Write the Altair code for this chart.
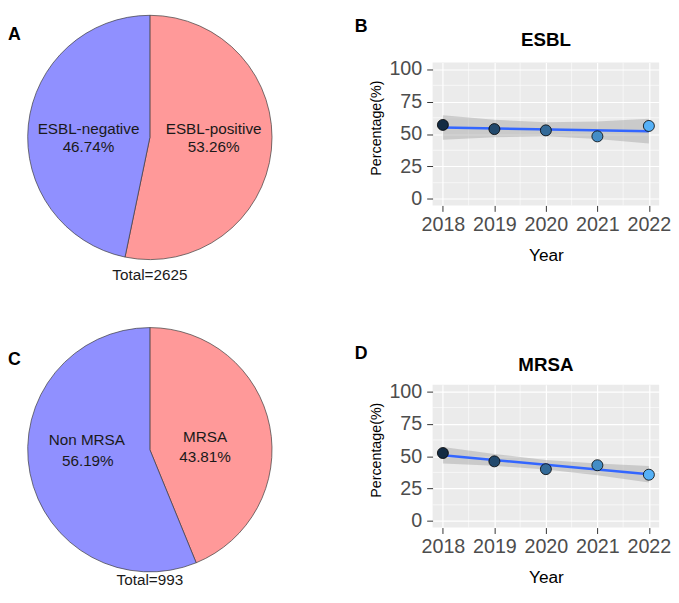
import altair as alt
import pandas as pd

# ---------------- data ----------------
esbl_cats = ["ESBL-positive", "ESBL-negative"]
esbl_pct = [53.26, 46.74]
esbl_total = 2625
mrsa_cats = ["MRSA", "Non MRSA"]
mrsa_pct = [43.81, 56.19]
mrsa_total = 993

years = [2018, 2019, 2020, 2021, 2022]
esbl_rate = [57.0, 53.8, 52.8, 48.2, 56.2]
esbl_lo = [45.5, 47.6, 48.2, 46.2, 42.7]
esbl_hi = [64.5, 61.0, 59.0, 59.6, 61.7]
mrsa_rate = [52.4, 46.0, 40.0, 43.0, 35.7]
mrsa_lo = [44.4, 42.6, 39.7, 35.3, 29.8]
mrsa_hi = [57.0, 51.6, 47.1, 44.3, 42.4]

x_ticks = [2018, 2019, 2020, 2021, 2022]
y_ticks = [0, 25, 50, 75, 100]
x_minor = [2018.5, 2019.5, 2020.5, 2021.5]
y_minor = [12.5, 37.5, 62.5, 87.5]
panel_letters = ["A", "B", "C", "D"]
trend_titles = ["ESBL", "MRSA"]

FONT = "Liberation Sans"
POS = "#FF9999"
NEG = "#9090FF"
all_cats = esbl_cats + mrsa_cats


def label(txt, x, y, size=15.5, weight="normal", align="center", color="#1A1A1A"):
    return alt.Chart(pd.DataFrame({"t": [txt]})).mark_text(
        font=FONT, fontSize=size, fontWeight=weight, align=align,
        baseline="alphabetic", color=color
    ).encode(x=alt.value(x), y=alt.value(y), text="t:N")


def pie(cats, pcts, cx, cy):
    df = pd.DataFrame({"cat": cats, "pct": pcts, "idx": list(range(len(cats)))})
    return alt.Chart(df).mark_arc(radius=124, stroke="#3A3A3A", strokeWidth=0.7).encode(
        theta=alt.Theta("pct:Q", stack=True),
        color=alt.Color("cat:N", scale=alt.Scale(domain=all_cats, range=[POS, NEG, POS, NEG]),
                        legend=None),
        order=alt.Order("idx:Q"),
        x=alt.value(cx), y=alt.value(cy),
    )


pct_txt = lambda p: f"{p:.2f}%"

LEFT_W = 431

left = alt.layer(
    pie(esbl_cats, esbl_pct, 144, 124),
    pie(mrsa_cats, mrsa_pct, 144, 441),
    label(esbl_cats[1], 81.7, 120), label(pct_txt(esbl_pct[1]), 81.7, 139),
    label(esbl_cats[0], 208.7, 120), label(pct_txt(esbl_pct[0]), 208.7, 139),
    label(f"Total={esbl_total}", 144, 269),
    label(mrsa_cats[1], 80, 436), label(pct_txt(mrsa_pct[1]), 81, 458),
    label(mrsa_cats[0], 200, 433), label(pct_txt(mrsa_pct[0]), 200, 453),
    label(f"Total={mrsa_total}", 144, 578),
    label(panel_letters[0], 0, 25, size=18, weight="bold", align="left", color="black"),
    label(panel_letters[1], 352, 17, size=18, weight="bold", align="left", color="black"),
    label(panel_letters[2], 0, 355, size=18, weight="bold", align="left", color="black"),
    label(panel_letters[3], 352, 349, size=18, weight="bold", align="left", color="black"),
).resolve_scale(theta="independent").properties(width=LEFT_W, height=580)


def trend(title, rate, lo, hi, title_y):
    df = pd.DataFrame({"year": years, "pct": rate, "lo": lo, "hi": hi})
    xs = alt.Scale(domain=[2017.8, 2022.2], nice=False, zero=False)
    ys = alt.Scale(domain=[-5, 105], nice=False, zero=False)
    xaxis = alt.Axis(values=x_ticks, format="d", title="Year", labelFlush=False)
    yaxis = alt.Axis(values=y_ticks, title="Percentage(%)", labelFlush=False, titleY=66)
    vminor = alt.Chart(pd.DataFrame({"v": x_minor})).mark_rule(
        color="white", strokeWidth=0.6).encode(x=alt.X("v:Q", scale=xs, axis=xaxis))
    hminor = alt.Chart(pd.DataFrame({"v": y_minor})).mark_rule(
        color="white", strokeWidth=0.6).encode(y=alt.Y("v:Q", scale=ys, axis=yaxis))
    base = alt.Chart(df)
    band = base.mark_area(color="#999999", opacity=0.4).encode(
        x=alt.X("year:Q", scale=xs, axis=xaxis),
        y=alt.Y("lo:Q", scale=ys, axis=yaxis), y2="hi:Q")
    line = base.transform_regression("year", "pct").mark_line(
        color="#3366FF", strokeWidth=2.5).encode(
        x=alt.X("year:Q", scale=xs, axis=xaxis),
        y=alt.Y("pct:Q", scale=ys, axis=yaxis))
    pts = base.mark_circle(size=125, opacity=1, stroke="black", strokeWidth=0.8).encode(
        x=alt.X("year:Q", scale=xs, axis=xaxis),
        y=alt.Y("pct:Q", scale=ys, axis=yaxis),
        fill=alt.Fill("year:Q", scale=alt.Scale(domain=[2018, 2022],
                                                range=["#132B43", "#56B1F7"],
                                                interpolate="lab"), legend=None))
    ttl = label(title, 115, title_y, size=19, weight="bold", color="black")
    return alt.layer(vminor, hminor, band, line, pts, ttl).properties(
        width=230, height=145,
        view=alt.ViewBackground(fill="#EBEBEB", stroke=None))


def spacer(h):
    return alt.Chart(pd.DataFrame({"v": [0]})).mark_point(opacity=0).encode(
        x=alt.value(0), y=alt.value(0)).properties(width=230, height=h)


right = alt.vconcat(
    spacer(48),
    trend(trend_titles[0], esbl_rate, esbl_lo, esbl_hi, -17),
    spacer(182),
    trend(trend_titles[1], mrsa_rate, mrsa_lo, mrsa_hi, -14),
    spacing=0, bounds="flush",
)

chart = alt.hconcat(left, right, spacing=0, bounds="flush").properties(
    padding=0
).configure(font=FONT).configure_view(stroke=None).configure_axis(
    labelFont=FONT, labelFontSize=20, labelColor="#4D4D4D",
    tickColor="#333333", tickSize=6, tickWidth=1, domain=False,
    gridColor="white", gridWidth=1.2,
    titleFont=FONT, titleColor="black", titleFontWeight="normal",
).configure_axisX(labelPadding=3, titlePadding=13, titleFontSize=17.5).configure_axisY(
    labelPadding=5, titlePadding=6, titleFontSize=14.5)

chart.save("out.html", embed_options={"renderer": "svg", "actions": False})
